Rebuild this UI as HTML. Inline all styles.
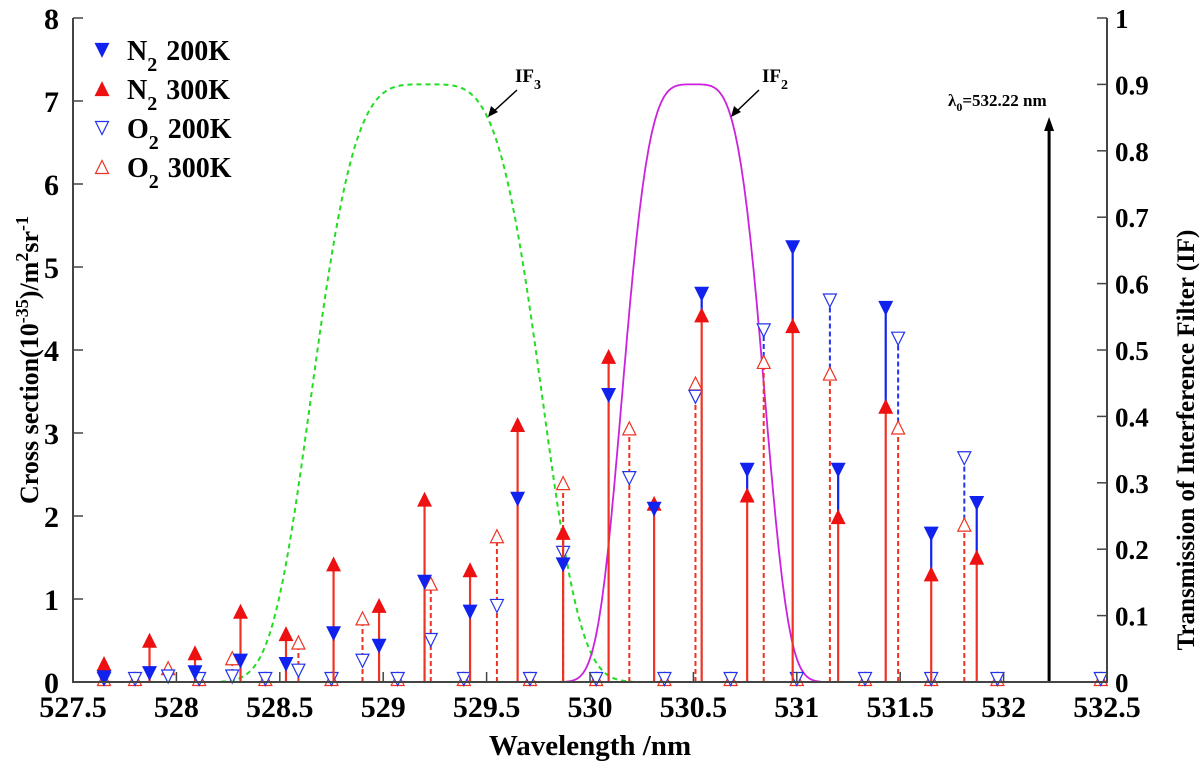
<!DOCTYPE html>
<html><head><meta charset="utf-8">
<style>
body{margin:0;background:#fff;}
svg{display:block;font-family:"Liberation Serif",serif;font-weight:bold;}
</style></head>
<body>
<svg id="chart" width="1200" height="768" viewBox="0 0 1200 768" xmlns="http://www.w3.org/2000/svg">
<g id="plot"></g>
</svg>
<script>
// N2 lines: wavelength, 200K, 300K
const n2Wl   = [527.65,527.87,528.09,528.31,528.53,528.76,528.98,529.20,529.42,529.65,529.87,530.09,530.31,530.54,530.76,530.98,531.20,531.43,531.65,531.87];
const n2T200 = [0.02,0.07,0.08,0.22,0.18,0.55,0.40,1.17,0.81,2.17,1.38,3.42,2.05,4.64,2.52,5.20,2.52,4.47,1.75,2.12];
const n2T300 = [0.17,0.45,0.30,0.80,0.53,1.37,0.87,2.15,1.30,3.05,1.75,3.87,2.10,4.37,2.20,4.24,1.94,3.27,1.25,1.45];
// O2 lines: wavelength, 200K, 300K
const o2Wl   = [527.65,527.80,527.96,528.11,528.27,528.43,528.59,528.75,528.90,529.07,529.23,529.39,529.55,529.71,529.87,530.03,530.19,530.36,530.51,530.68,530.84,531.00,531.16,531.33,531.49,531.65,531.81,531.97,532.47];
const o2T200 = [0,0,0.03,0,0.03,0,0.10,0,0.22,0,0.47,0,0.88,0,1.52,0,2.42,0,3.40,0,4.20,0,4.56,0,4.10,0,2.66,0,0];
const o2T300 = [0,0,0.13,0,0.25,0,0.44,0,0.73,0,1.15,0,1.72,0,2.36,0,3.02,0,3.56,0,3.82,0,3.68,0,3.03,0,1.86,0,0];
// filter parameters: center, half width at half max, exponent, peak
const if3 = [529.21, 0.55, 4, 0.9];
const if2 = [530.50, 0.34, 4, 0.9];
const lambda0 = 532.22;
const xTicks = [527.5,528,528.5,529,529.5,530,530.5,531,531.5,532,532.5];
const yTicks = [0,1,2,3,4,5,6,7,8];
const y2Ticks = [0,0.1,0.2,0.3,0.4,0.5,0.6,0.7,0.8,0.9,1];

const L=73,R=1107,T=18,B=682;
const X=v=>L+(v-527.5)/5*(R-L);
const Y=v=>B-v/8*(B-T);
const Y2=v=>B-v*(B-T);
const NS="http://www.w3.org/2000/svg";
const g=document.getElementById('plot');
function mk(tag,attrs,parent){const e=document.createElementNS(NS,tag);for(const k in attrs)e.setAttribute(k,attrs[k]);(parent||g).appendChild(e);return e;}

// filters
function filt(p){let d='';for(let w=527.5;w<=532.5;w+=0.005){const t=p[3]*Math.exp(-Math.LN2*Math.pow(Math.abs(w-p[0])/p[1],p[2]));if(t<0.0005&&Math.abs(w-p[0])>p[1])continue;d+=(d?'L':'M')+X(w).toFixed(1)+' '+Y2(t).toFixed(1);}return d;}
let e=mk('path',{d:filt(if3),fill:'none',stroke:'#22dd22','stroke-width':2,'stroke-dasharray':'5,4'});


e=mk('path',{d:filt(if2),fill:'none',stroke:'#cc22dd','stroke-width':1.8});



function tri(x,y,down,fill,col){const s=6.5;const pts=down?`${x-s},${y-s} ${x+s},${y-s} ${x},${y+s}`:`${x-s},${y+s} ${x+s},${y+s} ${x},${y-s}`;return mk('polygon',{points:pts,fill:fill?col:'#fff',stroke:col,'stroke-width':1.2});}

// O2 sticks
o2Wl.forEach((w,i)=>{const x=X(w);const a=o2T200[i],b=o2T300[i];
 if(Math.max(a,b)>0){
  const l1=mk('line',{x1:x,y1:B,x2:x,y2:Y(b),stroke:'#ee3322','stroke-width':2,'stroke-dasharray':'5,3'});
  
  
  if(a>b){const l2=mk('line',{x1:x,y1:Y(b),x2:x,y2:Y(a),stroke:'#2233ee','stroke-width':2,'stroke-dasharray':'5,3'});
  
  }
 }
 let m=tri(x,Y(b)-3,false,false,'#ee3322');
 
 
 m=tri(x,Y(a)-3,true,false,'#2233ee');
 
 
});
// N2 sticks
n2Wl.forEach((w,i)=>{const x=X(w);const a=n2T200[i],b=n2T300[i];
 const l1=mk('line',{x1:x,y1:B,x2:x,y2:Y(b),stroke:'#ee3322','stroke-width':2.2});
 
 
 if(a>b){const l2=mk('line',{x1:x,y1:Y(b),x2:x,y2:Y(a),stroke:'#1122ee','stroke-width':2.2});
 
 }
 let m=tri(x,Y(b)-4,false,true,'#ee1111');
 
 
 m=tri(x,Y(a)-3,true,true,'#1122ee');
 
 
});

// lambda0 arrow
e=mk('line',{x1:X(lambda0),y1:B,x2:X(lambda0),y2:128,stroke:'#000','stroke-width':3});


mk('polygon',{points:`${X(lambda0)-5},131 ${X(lambda0)+5},131 ${X(lambda0)},117`,fill:'#000'});
e=mk('text',{x:948,y:106,'font-size':17});
e.innerHTML='λ<tspan font-size="12" dy="5">0</tspan><tspan dy="-5">=532.22 nm</tspan>';



// IF labels
e=mk('text',{x:515,y:82,'font-size':19});
e.innerHTML='IF<tspan font-size="14" dy="7">3</tspan>';


mk('line',{x1:517,y1:90,x2:493,y2:112,stroke:'#000','stroke-width':1.5});
mk('polygon',{points:'488,117 491,106 498,112',fill:'#000'});
e=mk('text',{x:762,y:82,'font-size':19});
e.innerHTML='IF<tspan font-size="14" dy="7">2</tspan>';


mk('line',{x1:759,y1:90,x2:736,y2:112,stroke:'#000','stroke-width':1.5});
mk('polygon',{points:'731,117 734,106 741,112',fill:'#000'});

// axes
mk('polyline',{points:`${L},${T} ${L},${B} ${R},${B} ${R},${T}`,fill:'none',stroke:'#444','stroke-width':2});
xTicks.forEach(v=>{const x=X(v);mk('line',{x1:x,y1:B,x2:x,y2:B-10,stroke:'#444','stroke-width':1.5});
 e=mk('text',{x:x,y:B+35,'font-size':30,'text-anchor':'middle'});e.textContent=v;
 
 });
yTicks.forEach(v=>{const y=Y(v);mk('line',{x1:L,y1:y,x2:L+10,y2:y,stroke:'#444','stroke-width':1.5});
 e=mk('text',{x:L-14,y:y+11,'font-size':30,'text-anchor':'end'});e.textContent=v;
 
 });
y2Ticks.forEach(v=>{const y=Y2(v);mk('line',{x1:R,y1:y,x2:R-10,y2:y,stroke:'#444','stroke-width':1.5});
 e=mk('text',{x:R+8,y:y+10,'font-size':27});e.textContent=v;
 
 });

e=mk('text',{x:590,y:755,'font-size':29,'text-anchor':'middle'});
e.textContent='Wavelength /nm';


e=mk('text',{x:0,y:0,'font-size':26,'text-anchor':'middle',transform:'translate(38,360) rotate(-90)'});
e.innerHTML='Cross section(10<tspan font-size="18" dy="-10">-35</tspan><tspan dy="10">)/m</tspan><tspan font-size="18" dy="-10">2</tspan><tspan dy="10">sr</tspan><tspan font-size="18" dy="-10">-1</tspan>';


e=mk('text',{x:0,y:0,'font-size':25,'text-anchor':'middle',transform:'translate(1194,440) rotate(-90)'});
e.textContent='Transmission of Interference Filter (IF)';



// legend
const leg=[['N','2','200K',true,true,'#1122ee'],['N','2','300K',false,true,'#ee1111'],['O','2','200K',true,false,'#2233ee'],['O','2','300K',false,false,'#ee3322']];
leg.forEach((l,i)=>{const y=50+i*39;
 const m=tri(102,y,l[3],l[4],l[5]);
 
 
 const t=mk('text',{x:127,y:y+10,'font-size':28});
 t.innerHTML=`${l[0]}<tspan font-size="20" dy="11">${l[1]}</tspan><tspan dy="-11" dx="9">${l[2]}</tspan>`;
 
 });
</script>
</body></html>
